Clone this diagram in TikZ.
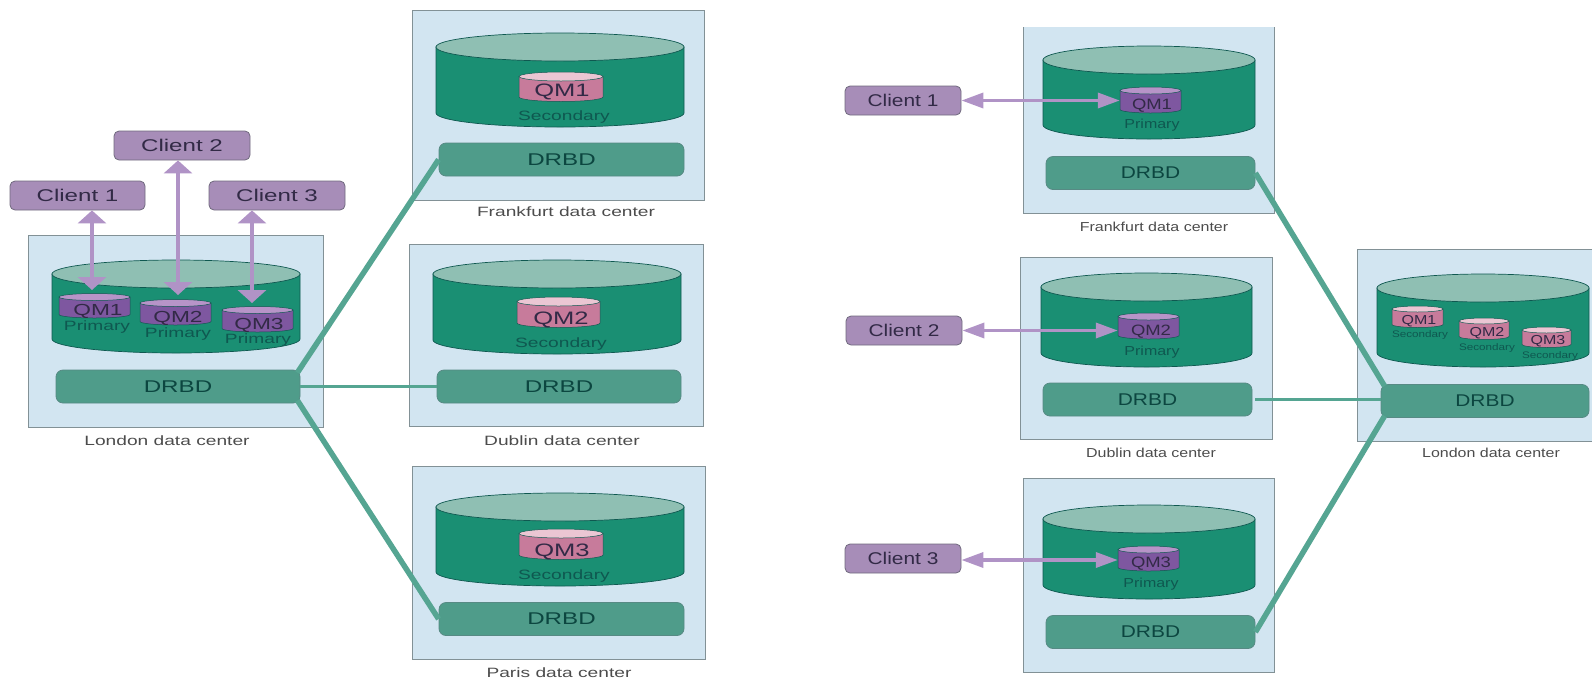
\documentclass[tikz,border=0pt]{standalone}
\usepackage{fontspec}
\setmainfont{Liberation Sans}
\newfontfamily\leftface[FakeStretch=1.42]{Liberation Sans}
\newfontfamily\rightface[FakeStretch=1.23]{Liberation Sans}
\usepackage{xcolor}
\definecolor{colorsite}{RGB}{210,229,241}
\definecolor{colorline}{RGB}{130,145,150}
\definecolor{colorbody}{RGB}{26,143,115}
\definecolor{colortop}{RGB}{143,191,179}
\definecolor{colordrbd}{RGB}{79,156,138}
\definecolor{colorlink}{RGB}{85,165,146}
\definecolor{colorclient}{RGB}{167,141,184}
\definecolor{colorarrow}{RGB}{176,147,198}
\definecolor{colorprim}{RGB}{126,87,160}
\definecolor{colorprimtop}{RGB}{183,148,200}
\definecolor{colorsec}{RGB}{199,123,155}
\definecolor{colorsectop}{RGB}{235,198,211}
\definecolor{colorink}{RGB}{50,42,70}
\definecolor{colorteal}{RGB}{15,88,80}
\usepackage{tikz}
\usetikzlibrary{arrows.meta,shapes}
\tikzstyle{blockSite} = [rectangle, fill=colorsite, draw=colorline, line width=1pt, inner sep=0pt]
\tikzstyle{blockClient} = [rectangle, fill=colorclient, draw=colorink!70, line width=0.8pt, rounded corners=5pt, minimum height=29pt, inner sep=0pt, text=colorink]
\tikzstyle{blockDrbd} = [rectangle, fill=colordrbd, draw=colorteal!70, line width=0.8pt, rounded corners=7pt, minimum height=33pt, inner sep=0pt, text=colorteal!80!black, font=\fontsize{17}{20}\selectfont]
\tikzstyle{sideBig} = [fill=colorbody, draw=colorteal, line width=0.7pt]
\tikzstyle{topBig} = [fill=colortop, draw=colorteal, line width=0.7pt]
\tikzstyle{sidePrim} = [fill=colorprim, draw=colorteal, line width=0.5pt]
\tikzstyle{topPrim} = [fill=colorprimtop, draw=colorteal, line width=0.5pt]
\tikzstyle{sideSec} = [fill=colorsec, draw=colorteal, line width=0.5pt]
\tikzstyle{topSec} = [fill=colorsectop, draw=colorteal, line width=0.5pt]
\tikzstyle{linkDrbd} = [draw=colorlink, line width=5.5pt]
\tikzstyle{linkThin} = [draw=colorlink, line width=3.5pt]
\tikzstyle{arrowUp} = [draw=colorarrow, line width=4pt, {Triangle[width=28pt,length=13pt]}-{Triangle[width=28pt,length=13pt]}]
\tikzstyle{arrowSide} = [draw=colorarrow, line width=3.5pt, {Triangle[width=15pt,length=22pt]}-{Triangle[width=15pt,length=22pt]}]
\tikzstyle{labelSite} = [text=black!70, inner sep=0pt]
\tikzstyle{labelQm} = [text=colorink, inner sep=0pt]
\tikzstyle{labelRole} = [text=colorteal, inner sep=0pt]

% name, left, right, top centre, bottom centre, y radius, side style, top style
\newcommand{\drum}[8]{
  \pgfmathsetmacro{\drumR}{(#3-#2)/2}
  \pgfmathsetmacro{\drumX}{(#2+#3)/2}
  \pgfmathsetmacro{\drumY}{(#4+#5)/2}
  \pgfmathsetmacro{\drumH}{#5-#4+2*#6}
  \draw[#7] (#2,#4) -- (#2,#5) arc[start angle=180,end angle=0,x radius=\drumR,y radius=#6] -- (#3,#4) -- cycle;
  \draw[#8] (\drumX,#4) ellipse [x radius=\drumR,y radius=#6];
  \node[rectangle, inner sep=0pt, minimum width=2*\drumR pt, minimum height=\drumH pt] (#1) at (\drumX,\drumY) {};
}

\begin{document}
\begin{tikzpicture}[x=1pt,y=-1pt]
  \path[use as bounding box, clip] (0,0) rectangle (1592,681);

  % data centers
  \foreach \nm/\x/\y/\w/\h in {siteLon/175.5/331/295/192, siteFra/558/105/292/190, siteDub/556/335/294/182, sitePar/558.5/562.5/293/193,
    siteFrb/1148.5/116.5/251/193, siteDuc/1146/348/252/182, sitePab/1148.5/575/251/194, siteLob/1478.5/345/243/192}
  \node[blockSite, minimum width=\w pt, minimum height=\h pt] (\nm) at (\x,\y) {};
  \fill[white] (1010,0) rectangle (1290,27);

  \foreach \nm/\xl/\xr/\yt/\yb in {dbLon/52/300/274/339, dbFra/436/684/47/113, dbDub/433/681/274/340, dbPar/436/684/507/572,
    dbFrb/1043/1255/60/125, dbDuc/1041/1252/287/353, dbPab/1043/1255/519/585, dbLob/1377/1589/288/353}
  {\drum{\nm}{\xl}{\xr}{\yt}{\yb}{14}{sideBig}{topBig}}

  % DRBD
  \node[blockDrbd, minimum width=244pt, font=\leftface\fontsize{17}{20}\selectfont] (drbdLon) at (178,386.5) {DRBD};
  \node[blockDrbd, minimum width=245pt, font=\leftface\fontsize{17}{20}\selectfont] (drbdFra) at (561.5,159.5) {DRBD};
  \node[blockDrbd, minimum width=244pt, font=\leftface\fontsize{17}{20}\selectfont] (drbdDub) at (559,386.5) {DRBD};
  \node[blockDrbd, minimum width=245pt, font=\leftface\fontsize{17}{20}\selectfont] (drbdPar) at (561.5,619) {DRBD};
  \node[blockDrbd, minimum width=209pt, font=\rightface\fontsize{17}{20}\selectfont] (drbdFrb) at (1150.5,173) {DRBD};
  \node[blockDrbd, minimum width=209pt, font=\rightface\fontsize{17}{20}\selectfont] (drbdDuc) at (1147.5,399.5) {DRBD};
  \node[blockDrbd, minimum width=209pt, font=\rightface\fontsize{17}{20}\selectfont] (drbdPab) at (1150.5,632) {DRBD};
  \node[blockDrbd, minimum width=208pt, font=\rightface\fontsize{17}{20}\selectfont] (drbdLob) at (1485,401) {DRBD};

  \draw[linkDrbd] ([xshift=-3pt,yshift=-3pt]drbdLon.north east) -- (drbdFra.west);
  \draw[linkThin] (drbdLon.east) -- (drbdDub.west);
  \draw[linkDrbd] ([xshift=-3pt,yshift=3pt]drbdLon.south east) -- (drbdPar.west);
  \draw[linkDrbd] (drbdFrb.east) -- ([xshift=4pt,yshift=-2pt]drbdLob.north west);
  \draw[linkThin] ([xshift=3pt]drbdDuc.east) -- (drbdDuc.east -| drbdLob.west);
  \draw[linkDrbd] (drbdPab.east) -- ([xshift=4pt,yshift=2pt]drbdLob.south west);

  % queue managers
  \foreach \nm/\xl/\xr/\yt/\yb in {qmLa/59/130/297/314.5, qmLb/140/211/303/321.5, qmLc/222/293/310/328.5,
    qmFrb/1120/1181/90.5/109.5, qmDuc/1118/1179/316.5/335.5, qmPab/1118/1179/549.5/567.5}
  {\drum{\nm}{\xl}{\xr}{\yt}{\yb}{3.5}{sidePrim}{topPrim}}

  \foreach \nm/\xl/\xr/\yt/\yb in {qmFra/519/603/76.5/97, qmDub/517/600/301.5/323, qmPar/519/603/533.5/555}
  {\drum{\nm}{\xl}{\xr}{\yt}{\yb}{4.5}{sideSec}{topSec}}

  \foreach \nm/\xl/\xr/\yt/\yb in {qmLoa/1392/1443/309/324.5, qmLob/1459/1509/321/336.5, qmLoc/1522/1571/330/344.5}
  {\drum{\nm}{\xl}{\xr}{\yt}{\yb}{3}{sideSec}{topSec}}

  % texts on the drums
  \foreach \nm/\x/\y/\t in {txLa/98/311/QM1, txLb/178/318/QM2, txLc/259/325/QM3}
  \node[labelQm, font=\leftface\fontsize{16}{18}\selectfont] (\nm) at (\x,\y) {\t};
  \foreach \nm/\x/\y/\t in {txFra/562/92/QM1, txDub/561/320/QM2, txPar/562/552/QM3}
  \node[labelQm, font=\leftface\fontsize{18}{20}\selectfont] (\nm) at (\x,\y) {\t};
  \foreach \nm/\x/\y/\t in {txFrb/1152/106/QM1, txDuc/1151/332/QM2, txPab/1151/564/QM3}
  \node[labelQm, font=\rightface\fontsize{15}{18}\selectfont] (\nm) at (\x,\y) {\t};
  \foreach \nm/\x/\y/\t in {txLoa/1419/321/QM1, txLob/1487/333/QM2, txLoc/1548/341/QM3}
  \node[labelQm, font=\rightface\fontsize{13}{15}\selectfont] (\nm) at (\x,\y) {\t};

  \foreach \nm/\x/\y in {roLa/97/327, roLb/178/334, roLc/258/340}
  \node[labelRole, font=\leftface\fontsize{13.5}{16}\selectfont] (\nm) at (\x,\y) {Primary};
  \foreach \nm/\x/\y in {roFra/564/117, roDub/561/344, roPar/564/576}
  \node[labelRole, font=\leftface\fontsize{13.5}{16}\selectfont] (\nm) at (\x,\y) {Secondary};
  \foreach \nm/\x/\y in {roFrb/1152/125, roDuc/1152/352, roPab/1151/584}
  \node[labelRole, font=\rightface\fontsize{13}{16}\selectfont] (\nm) at (\x,\y) {Primary};
  \foreach \nm/\x/\y in {roLoa/1420/335, roLob/1487/348, roLoc/1550/356}
  \node[labelRole, font=\rightface\fontsize{9.5}{11}\selectfont] (\nm) at (\x,\y) {Secondary};

  % clients
  \node[blockClient, minimum width=135pt, font=\leftface\fontsize{17}{20}\selectfont] (clientLa) at (77.5,195.5) {Client 1};
  \node[blockClient, minimum width=136pt, font=\leftface\fontsize{17}{20}\selectfont] (clientLb) at (182,145.5) {Client 2};
  \node[blockClient, minimum width=136pt, font=\leftface\fontsize{17}{20}\selectfont] (clientLc) at (277,195.5) {Client 3};
  \node[blockClient, minimum width=116pt, font=\rightface\fontsize{17}{20}\selectfont] (clientRa) at (903,100.5) {Client 1};
  \node[blockClient, minimum width=116pt, font=\rightface\fontsize{17}{20}\selectfont] (clientRb) at (904,330.5) {Client 2};
  \node[blockClient, minimum width=116pt, font=\rightface\fontsize{17}{20}\selectfont] (clientRc) at (903,558.5) {Client 3};

  \coordinate (tipLa) at (92,290);
  \coordinate (tipLb) at (178,295);
  \coordinate (tipLc) at (252,303);
  \draw[arrowUp] (tipLa |- clientLa.south) -- (tipLa);
  \draw[arrowUp] (tipLb |- clientLb.south) -- (tipLb);
  \draw[arrowUp] (tipLc |- clientLc.south) -- (tipLc);

  \draw[arrowSide] (clientRa.east) -- (clientRa.east -| qmFrb.west);
  \draw[arrowSide] (clientRb.east) -- (clientRb.east -| qmDuc.west);
  \draw[arrowSide] ([yshift=-1.5pt]clientRc.east) -- ([yshift=-1.5pt]clientRc.east -| qmPab.west);

  % captions
  \foreach \nm/\x/\y/\t in {capLon/167/441/London, capFra/566/212/Frankfurt, capDub/562/441/Dublin, capPar/559/673/Paris}
  \node[labelSite, font=\leftface\fontsize{13.5}{16}\selectfont] (\nm) at (\x,\y) {\t{} data center};
  \foreach \nm/\x/\y/\t in {capFrb/1154/227/Frankfurt, capDuc/1151/453/Dublin, capLob/1491/453/London}
  \node[labelSite, font=\rightface\fontsize{13}{16}\selectfont] (\nm) at (\x,\y) {\t{} data center};
\end{tikzpicture}
\end{document}
